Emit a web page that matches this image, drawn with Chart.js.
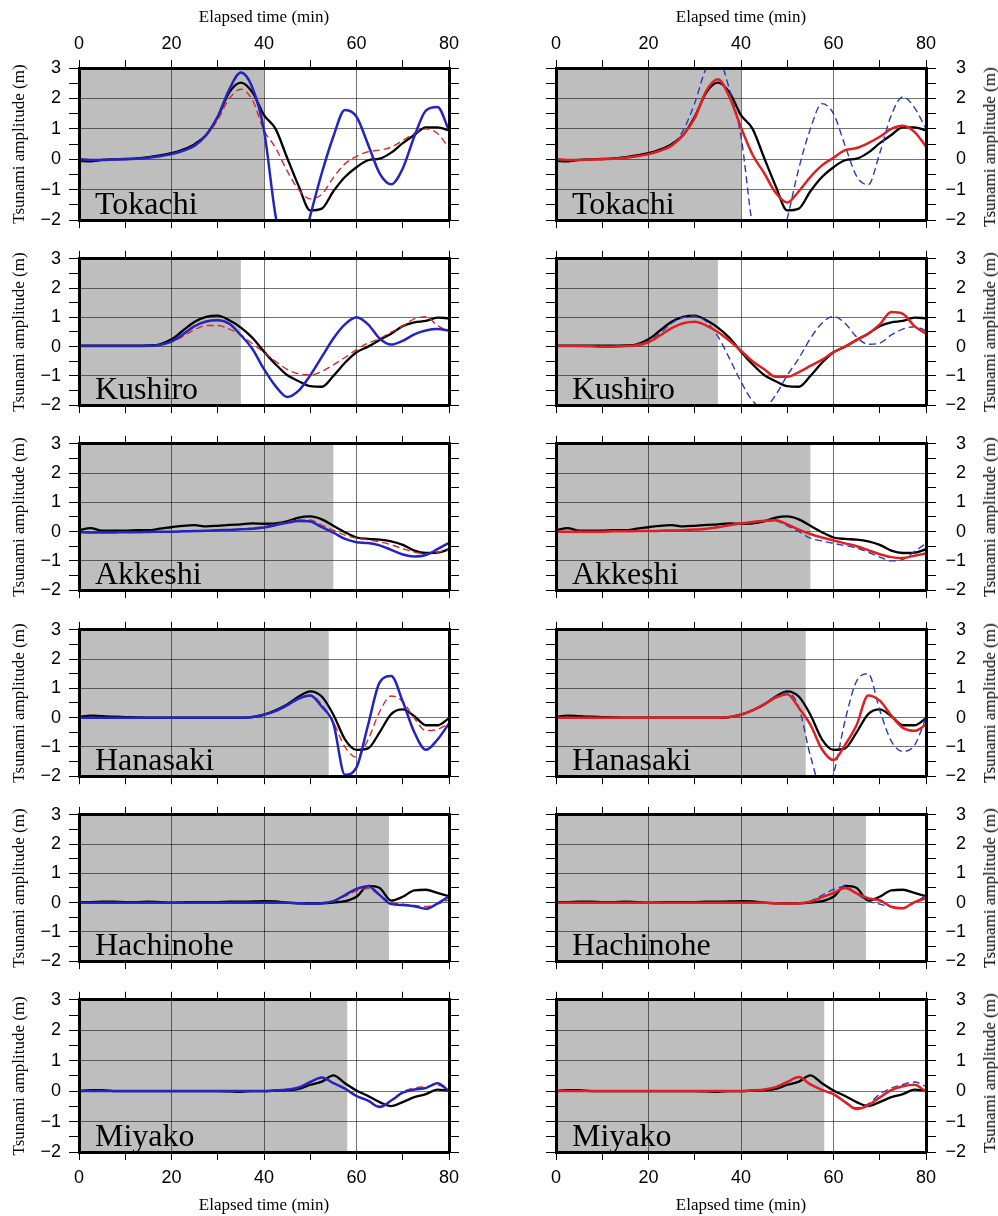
<!DOCTYPE html>
<html>
<head>
    <title>Tsunami waveforms</title>
    <style>
        body {
            margin: 0;
            background-color: #ffffff;
        }
        #page {
            position: relative;
            width: 998px;
            height: 1216px;
        }
        canvas {
            position: absolute;
        }
        .ytitle {
            position: absolute;
            font-family: "Liberation Serif", serif;
            font-size: 17px;
            color: #000;
            white-space: nowrap;
            transform: translate(-50%, -50%) rotate(-90deg);
        }
    </style>
</head>
<body>
    <div id="page"></div>

    <script src="https://cdn.jsdelivr.net/npm/chart.js"></script>
    <script>
        // time axis (min) shared by every series
        const minutes = [0, 2.5, 5, 7.5, 10, 12.5, 15, 17.5, 20, 22.5, 25, 27.5, 30, 32.5, 35, 37.5, 40,
                         42.5, 45, 47.5, 50, 52.5, 55, 57.5, 60, 62.5, 65, 67.5, 70, 72.5, 75, 77.5, 80];
        const stations = ['Tokachi', 'Kushiro', 'Akkeshi', 'Hanasaki', 'Hachinohe', 'Miyako'];
        const shadeEnd = [40, 35, 55, 54, 67, 58];   // end of grey window (min)
        const xTicks = [0, 20, 40, 60, 80];
        const yTicks = [-2, -1, 0, 1, 2, 3];

        // observed (black)
        const tokachiObs = [-0.05,-0.07,-0.02,0,0.01,0.03,0.07,0.13,0.2,0.32,0.5,0.8,1.4,2.2,2.52,2.2,1.45,1.0,0.05,-0.88,-1.68,-1.62,-1.05,-0.58,-0.26,-0.03,0.02,0.22,0.53,0.8,1.05,1.05,0.95];
        const kushiroObs = [0.03,0.03,0.03,0.03,0.03,0.03,0.04,0.08,0.25,0.55,0.85,1.02,1.06,0.9,0.65,0.3,-0.17,-0.6,-0.97,-1.18,-1.35,-1.37,-1.0,-0.55,-0.19,0.0,0.23,0.44,0.7,0.83,0.88,0.99,0.97];
        const akkeshiObs = [0.05,0.12,0.03,0.03,0.03,0.05,0.05,0.1,0.15,0.2,0.22,0.18,0.2,0.23,0.25,0.28,0.27,0.28,0.35,0.48,0.52,0.42,0.2,-0.02,-0.2,-0.25,-0.27,-0.33,-0.45,-0.65,-0.73,-0.72,-0.6];
        const hanasakiObs = [0.02,0.07,0.05,0.03,0.02,0.01,0,0,0,0,0,0,0,0,0,0.02,0.1,0.25,0.45,0.72,0.9,0.72,0.1,-0.74,-1.1,-1.05,-0.5,0.12,0.28,0.05,-0.26,-0.26,-0.02];
        const hachinoheObs = [0.02,0.02,0.03,0.03,0.02,0.02,0.03,0.02,0,0.01,0.02,0.02,0.02,0.03,0.03,0.04,0.05,0.04,0,-0.02,-0.02,-0.02,0.0,0.05,0.2,0.57,0.5,0.07,0.2,0.42,0.44,0.33,0.22];
        const miyakoObs = [0,0.03,0.03,0,0,0,0,0,0,0,0,0,0,-0.01,-0.02,0,0,0.02,0.03,0.07,0.21,0.31,0.52,0.26,0.02,-0.16,-0.36,-0.49,-0.36,-0.2,-0.1,0.05,0.02];

        // left column: blue solid + red dashed
        const tokachiBlueL = [0,-0.02,-0.02,-0.01,0,0.02,0.05,0.1,0.17,0.28,0.45,0.8,1.4,2.3,2.85,2.35,0.95,-1.85,-3.4,-3.3,-1.85,-0.45,0.75,1.62,1.4,0.49,-0.46,-0.82,-0.3,0.75,1.6,1.72,0.95];
        const kushiroBlueL = [0.02,0.02,0.02,0.02,0.02,0.02,0.03,0.06,0.18,0.42,0.7,0.86,0.9,0.78,0.39,-0.08,-0.77,-1.35,-1.72,-1.5,-0.98,-0.35,0.28,0.76,1.0,0.76,0.28,0.07,0.2,0.42,0.55,0.6,0.55];
        const akkeshiBlueL = [-0.02,-0.03,-0.03,-0.03,-0.02,-0.02,-0.01,0,0,0.01,0.02,0.03,0.05,0.06,0.08,0.1,0.14,0.22,0.3,0.36,0.35,0.15,-0.03,-0.25,-0.36,-0.39,-0.47,-0.62,-0.78,-0.85,-0.8,-0.6,-0.38];
        const hanasakiBlueL = [0,0,0,0,0,0,0,0,0,0,0,0,0,0,0,0.02,0.1,0.22,0.42,0.65,0.76,0.37,-0.2,-1.95,-1.7,-0.25,1.2,1.42,0.55,-0.5,-1.1,-0.75,-0.2];
        const hachinoheBlueL = [0,0,0,0,0,0,0,0,0,0,0,0,0,0,0,0,0,0,0,-0.02,-0.04,-0.02,0.05,0.26,0.47,0.56,0.26,-0.05,-0.08,-0.12,-0.21,-0.03,0.21];
        const miyakoBlueL = [0,0,0,0,0,0,0,0,0,0,0,0,0,0,0,0,0,0.02,0.05,0.12,0.3,0.45,0.26,0.08,-0.16,-0.31,-0.52,-0.31,-0.05,0.05,0.1,0.26,0.0];

        const tokachiRedL = [0,-0.02,-0.02,-0.01,0,0.02,0.05,0.1,0.17,0.28,0.45,0.78,1.3,2.0,2.3,1.95,0.95,0.38,-0.38,-1.0,-1.3,-1.15,-0.6,-0.15,0.1,0.25,0.3,0.4,0.62,0.85,1.0,0.85,0.37];
        const kushiroRedL = [0.02,0.02,0.02,0.02,0.02,0.02,0.03,0.06,0.15,0.35,0.58,0.72,0.72,0.6,0.4,0.1,-0.2,-0.5,-0.78,-0.93,-0.97,-0.85,-0.62,-0.37,-0.1,0.12,0.28,0.5,0.7,0.95,1.02,0.72,0.5];
        const akkeshiRedL = [-0.02,-0.03,-0.03,-0.03,-0.02,-0.02,-0.01,0,0,0.01,0.02,0.03,0.05,0.06,0.08,0.12,0.17,0.25,0.33,0.4,0.4,0.22,0.05,-0.12,-0.22,-0.28,-0.35,-0.45,-0.58,-0.7,-0.75,-0.7,-0.62];
        const hanasakiRedL = [0,0,0,0,0,0,0,0,0,0,0,0,0,0,0,0.02,0.1,0.22,0.42,0.65,0.77,0.45,-0.15,-1.0,-1.35,-0.75,0.2,0.74,0.55,-0.02,-0.44,-0.4,-0.2];
        const hachinoheRedL = [0,0,0,0,0,0,0,0,0,0,0,0,0,0,0,0,0,0,0,-0.02,-0.03,-0.02,0.04,0.22,0.4,0.48,0.25,0.0,-0.05,-0.1,-0.13,-0.05,0.1];
        const miyakoRedL = [0,0,0,0,0,0,0,0,0,0,0,0,0,0,0,0,0,0.02,0.05,0.12,0.3,0.45,0.26,0.08,-0.16,-0.31,-0.5,-0.3,-0.02,0.1,0.15,0.2,0.03];

        // right column: red solid + blue dashed
        const tokachiRedR = [0,-0.02,-0.02,-0.01,0,0.02,0.05,0.1,0.17,0.28,0.45,0.8,1.35,2.25,2.63,2.05,1.05,0.15,-0.45,-1.1,-1.42,-1.05,-0.58,-0.2,0.05,0.3,0.37,0.53,0.74,1.0,1.1,0.9,0.42];
        const kushiroRedR = [0.02,0.02,0.02,0.01,0,0,0.02,0.05,0.15,0.38,0.63,0.8,0.85,0.72,0.5,0.2,-0.14,-0.5,-0.77,-1.03,-1.03,-0.87,-0.66,-0.45,-0.19,0.0,0.23,0.44,0.76,1.18,1.12,0.7,0.44];
        const akkeshiRedR = [0,0,0,0,0,0.01,0.01,0.02,0.02,0.03,0.04,0.05,0.07,0.1,0.15,0.22,0.28,0.33,0.37,0.39,0.25,0.07,-0.08,-0.2,-0.3,-0.4,-0.5,-0.63,-0.77,-0.87,-0.9,-0.82,-0.75];
        const hanasakiRedR = [0,0,0,0,0,0,0,0,0,0,0,0,0,0,0,0.02,0.1,0.25,0.45,0.68,0.8,0.34,-0.24,-1.08,-1.45,-0.93,-0.25,0.76,0.58,0.07,-0.35,-0.45,-0.24];
        const hachinoheRedR = [0,0,0,0,0,0,0,0,0,0,0,0,0,0,0,0,0,0,0,-0.02,-0.03,-0.02,0.03,0.18,0.33,0.5,0.32,0.15,0.08,-0.14,-0.19,0.02,0.15];
        const miyakoRedR = [0,0,0,0,0,0,0,0,0,0,0,0,0,0,0,0,0,0.02,0.05,0.13,0.3,0.46,0.22,0.04,-0.1,-0.36,-0.59,-0.47,-0.21,0.03,0.16,0.21,-0.02];

        const tokachiBlueR = [0,-0.02,-0.02,-0.01,0,0.02,0.05,0.1,0.17,0.28,0.45,0.95,1.85,3.0,3.3,2.3,0.75,-2.2,-3.6,-3.4,-1.95,-0.3,1.0,1.83,1.5,0.45,-0.56,-0.83,0.2,1.45,2.05,1.7,1.0];
        const kushiroBlueR = [0.02,0.02,0.02,0.02,0.02,0.02,0.03,0.07,0.2,0.45,0.8,1.0,1.05,0.85,0.35,-0.4,-1.2,-1.85,-2.08,-1.65,-0.98,-0.4,0.28,0.8,1.03,0.8,0.33,0.08,0.12,0.4,0.6,0.68,0.55];
        const akkeshiBlueR = [0,0,0,0,0,0.01,0.01,0.02,0.02,0.03,0.04,0.05,0.07,0.1,0.15,0.22,0.28,0.33,0.36,0.36,0.2,0.0,-0.22,-0.32,-0.4,-0.48,-0.56,-0.7,-0.87,-1.0,-0.95,-0.68,-0.4];
        const hanasakiBlueR = [0,0,0,0,0,0,0,0,0,0,0,0,0,0,0,0.02,0.1,0.25,0.47,0.72,0.85,0.35,-1.3,-2.4,-1.9,-0.1,1.25,1.5,0.25,-0.8,-1.15,-0.95,0.0];
        const hachinoheBlueR = [0,0,0,0,0,0,0,0,0,0,0,0,0,0,0,0,0,0,0,-0.02,-0.03,-0.02,0.05,0.25,0.45,0.55,0.3,0.05,-0.05,-0.15,-0.2,0.0,0.25];
        const miyakoBlueR = [0,0,0,0,0,0,0,0,0,0,0,0,0,0,0,0,0,0.02,0.05,0.13,0.3,0.46,0.22,0.04,-0.12,-0.35,-0.55,-0.42,-0.1,0.1,0.22,0.3,0.15];

        const observed = [tokachiObs, kushiroObs, akkeshiObs, hanasakiObs, hachinoheObs, miyakoObs];
        const blueLeft = [tokachiBlueL, kushiroBlueL, akkeshiBlueL, hanasakiBlueL, hachinoheBlueL, miyakoBlueL];
        const redLeft = [tokachiRedL, kushiroRedL, akkeshiRedL, hanasakiRedL, hachinoheRedL, miyakoRedL];
        const redRight = [tokachiRedR, kushiroRedR, akkeshiRedR, hanasakiRedR, hachinoheRedR, miyakoRedR];
        const blueRight = [tokachiBlueR, kushiroBlueR, akkeshiBlueR, hanasakiBlueR, hachinoheBlueR, miyakoBlueR];

        // page layout (px)
        const rowTop = [68, 253, 438, 624, 809, 994];
        const plotH = 158;
        const gridColor = 'rgba(0,0,0,0.55)';
        const clear = 'rgba(0,0,0,0)';
        const tickFont = { family: 'Liberation Sans', size: 18 };
        const titleFont = { family: 'Liberation Serif', size: 17 };
        const frame = { display: true, color: '#000', width: 3, z: 1 };

        const page = document.getElementById('page');

        // grey window + station name
        const decor = {
            id: 'decor',
            beforeDraw(chart, args, opts) {
                const { ctx, chartArea: a } = chart;
                const x1 = chart.scales.x.getPixelForValue(opts.shadeTo);
                ctx.save();
                ctx.fillStyle = '#bebebe';
                ctx.fillRect(a.left, a.top, x1 - a.left, a.bottom - a.top);
                ctx.restore();
            },
            afterDatasetsDraw(chart, args, opts) {
                const { ctx, chartArea: a } = chart;
                ctx.save();
                ctx.font = '32px "Liberation Serif"';
                ctx.fillStyle = '#000';
                ctx.textBaseline = 'alphabetic';
                ctx.fillText(opts.name, a.left + 16, a.bottom - 6);
                ctx.restore();
            }
        };

        function series(values, color, width, dash) {
            return {
                data: minutes.map((t, i) => ({ x: t, y: values[i] })),
                borderColor: color,
                borderWidth: width,
                borderDash: dash || [],
                pointRadius: 0,
                fill: false,
                cubicInterpolationMode: 'monotone'
            };
        }

        function xAxis(pos, showLabels, size) {
            return {
                type: 'linear', position: pos, min: 0, max: 80,
                afterFit: s => { s.height = size; },
                border: frame,
                grid: {
                    drawOnChartArea: pos === 'bottom',
                    color: c => (c.tick && xTicks.includes(c.tick.value)) ? gridColor : clear,
                    tickColor: '#000', tickWidth: 1, tickLength: 8, lineWidth: 1
                },
                ticks: {
                    display: showLabels, stepSize: 10, autoSkip: false, maxRotation: 0,
                    padding: pos === 'top' ? 5 : 7, color: '#000', font: tickFont,
                    callback: v => xTicks.includes(v) ? String(v) : ''
                },
                title: {
                    display: showLabels, text: 'Elapsed time (min)', color: '#000', font: titleFont,
                    padding: pos === 'top' ? { top: 7, bottom: 0 } : { top: 0, bottom: 0 }
                }
            };
        }

        function yAxis(pos, showLabels, size) {
            return {
                type: 'linear', position: pos, min: -2, max: 3,
                afterFit: s => { s.width = size; },
                border: frame,
                grid: {
                    drawOnChartArea: pos === 'left',
                    color: c => (c.tick && yTicks.includes(c.tick.value)) ? gridColor : clear,
                    tickColor: '#000', tickWidth: 1, tickLength: 10, lineWidth: 1
                },
                ticks: {
                    display: showLabels, stepSize: 0.5, autoSkip: false,
                    padding: 8, crossAlign: pos === 'right' ? 'far' : 'near',
                    color: '#000', font: tickFont,
                    callback: v => yTicks.includes(v) ? String(v).replace('-', '\u2212') : ''
                },
                title: {
                    display: showLabels && pos === 'left', text: 'Tsunami amplitude (m)',
                    color: '#000', font: titleFont, padding: { top: 9, bottom: 0 }
                }
            };
        }

        function makePanel(row, col) {
            const first = row === 0;
            const last = row === stations.length - 1;
            const T = first ? 68 : 13;
            const B = last ? 1216 - (rowTop[row] + plotH) : 13;
            const left = col === 0;

            const cv = document.createElement('canvas');
            cv.width = left ? 498 : 500;
            cv.height = T + plotH + B;
            cv.style.left = (left ? 0 : 498) + 'px';
            cv.style.top = (rowTop[row] - T) + 'px';
            page.appendChild(cv);

            const datasets = left
                ? [series(blueLeft[row], '#2424c0', 2.5),
                   series(redLeft[row], '#d42a2a', 1.4, [7, 4]),
                   series(observed[row], '#000', 2.3)]
                : [series(redRight[row], '#e02020', 2.5),
                   series(blueRight[row], '#2a3ab8', 1.4, [7, 4]),
                   series(observed[row], '#000', 2.3)];

            new Chart(cv.getContext('2d'), {
                type: 'line',
                data: { datasets: datasets },
                plugins: [decor],
                options: {
                    responsive: false,
                    animation: false,
                    events: [],
                    layout: { padding: { left: 0, top: 0, bottom: 0, right: left ? 0 : 32 } },
                    plugins: {
                        legend: { display: false },
                        tooltip: { enabled: false },
                        decor: { shadeTo: shadeEnd[row], name: stations[row] }
                    },
                    scales: {
                        x: xAxis('bottom', last, B),
                        x2: xAxis('top', first, T),
                        y: yAxis('left', left, left ? 79 : 58),
                        y2: yAxis('right', !left, left ? 49 : 40)
                    }
                }
            });

            if (!left) {
                const t = document.createElement('div');
                t.className = 'ytitle';
                t.textContent = 'Tsunami amplitude (m)';
                t.style.left = '990px';
                t.style.top = (rowTop[row] + plotH / 2) + 'px';
                page.appendChild(t);
            }
        }

        for (let r = 0; r < stations.length; r++) {
            makePanel(r, 0);
            makePanel(r, 1);
        }
    </script>
</body>
</html>
